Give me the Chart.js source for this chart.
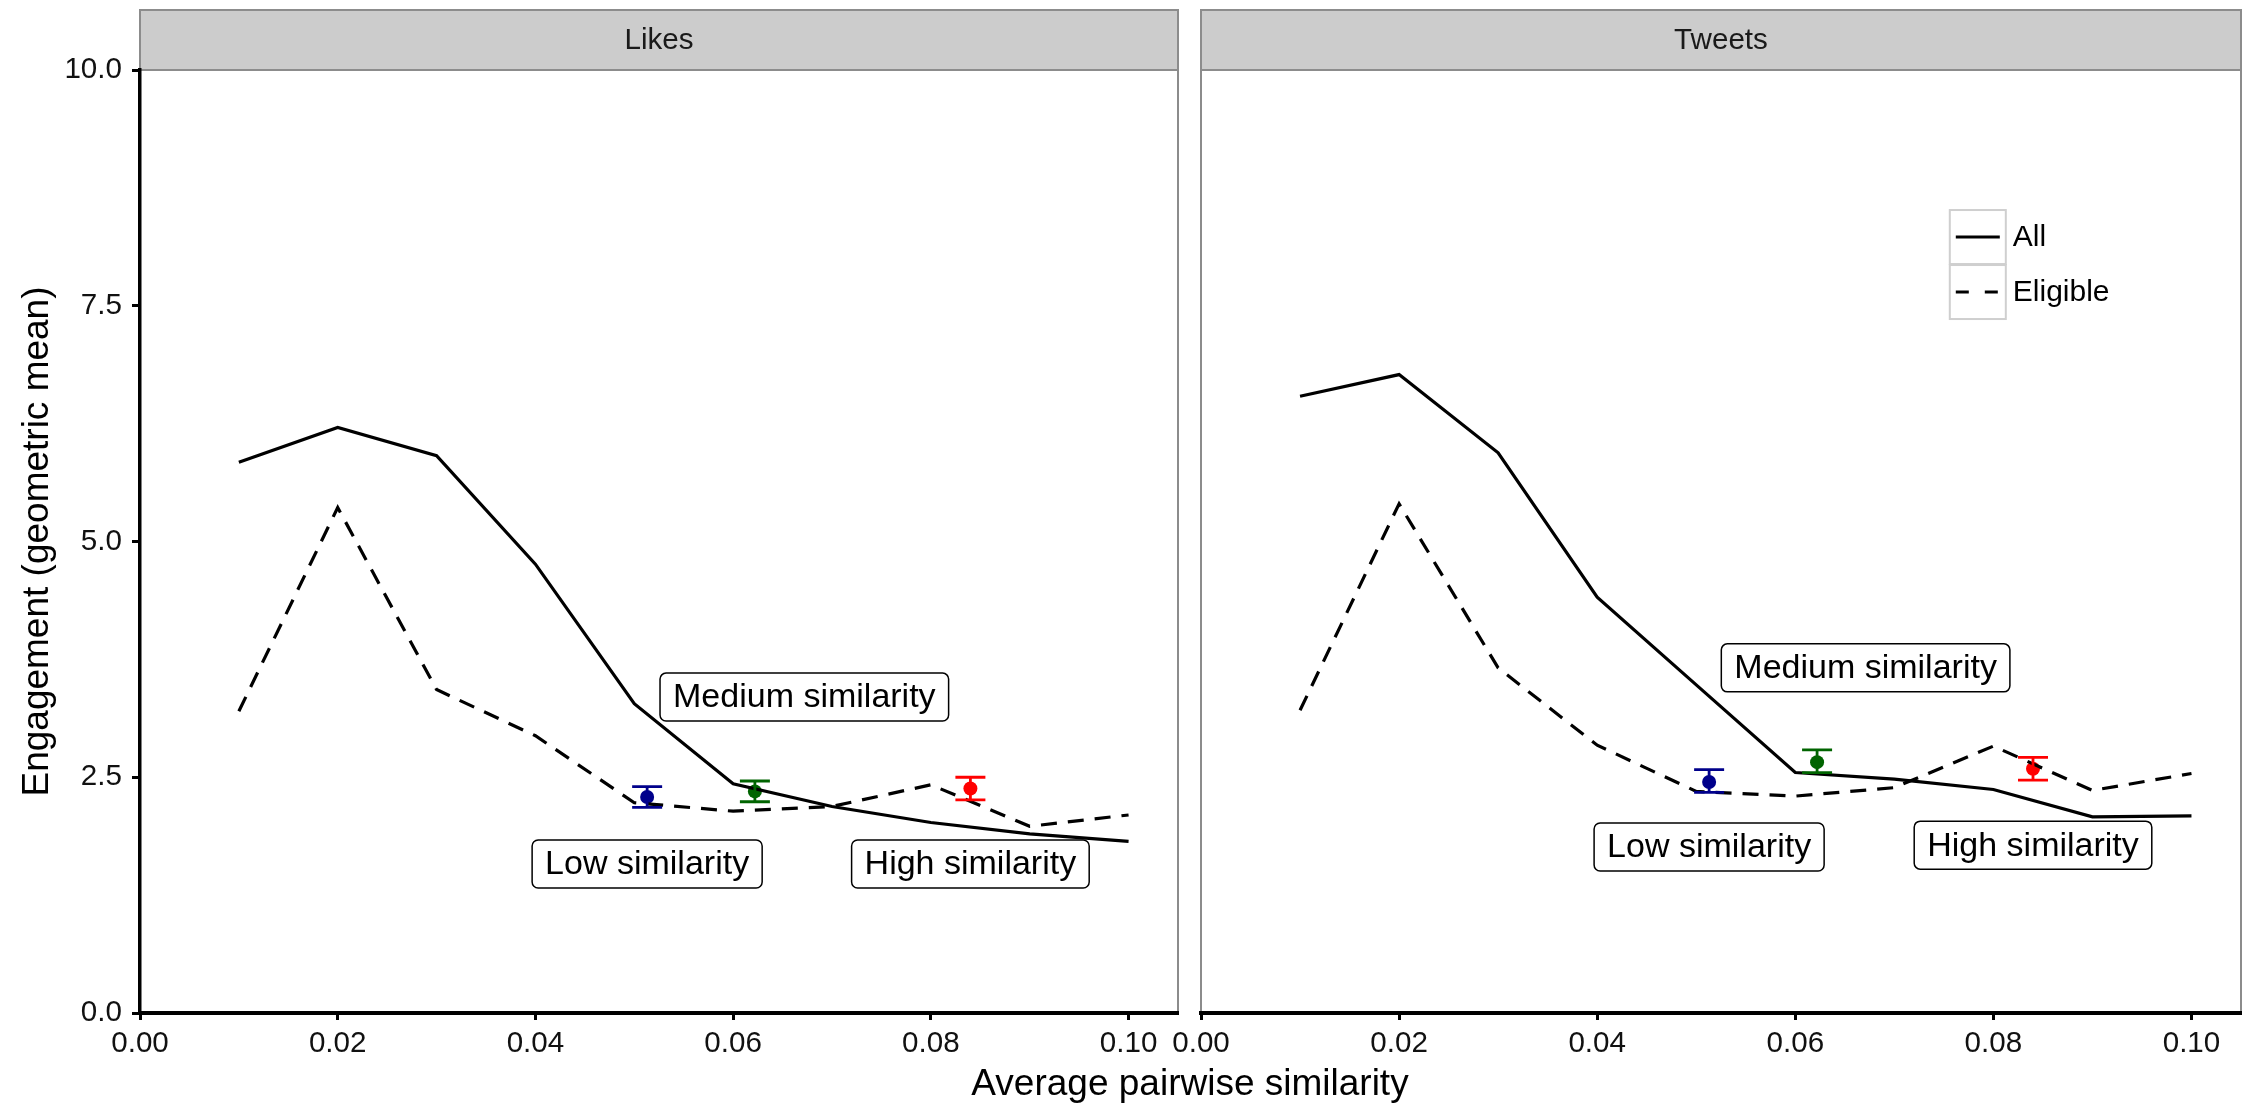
<!DOCTYPE html>
<html>
<head>
<meta charset="utf-8">
<script src="https://cdn.jsdelivr.net/npm/chart.js@4.4.1/dist/chart.umd.min.js"></script>
<style>
  html, body { margin: 0; padding: 0; background: #fff; }
  body { width: 2248px; height: 1103px; position: relative; overflow: hidden; font-family: "Liberation Sans", Arial, sans-serif; }
  canvas { position: absolute; top: 0; }
  #likesChart { left: 0; }
  #tweetsChart { left: 1140px; }
  #xTitle { position: absolute; left: 0; width: 2380px; top: 1064px; height: 37px; line-height: 37px; text-align: center; font-size: 37px; color: #000; }
</style>
</head>
<body>
<canvas id="likesChart" width="1185" height="1103"></canvas>
<canvas id="tweetsChart" width="1108" height="1103"></canvas>
<div id="xTitle">Average pairwise similarity</div>
<script>
const FONT = '"Liberation Sans", Arial, sans-serif';

// similarity bins
const xValues = [0.01, 0.02, 0.03, 0.04, 0.05, 0.06, 0.07, 0.08, 0.09, 0.10];
const xTicks = [0, 0.02, 0.04, 0.06, 0.08, 0.10];
const yTicks = [0, 2.5, 5, 7.5, 10];

// Likes panel
const likesAll = [5.84, 6.21, 5.91, 4.76, 3.28, 2.43, 2.19, 2.02, 1.90, 1.82];
const likesEligible = [3.20, 5.36, 3.43, 2.94, 2.23, 2.14, 2.19, 2.42, 1.98, 2.10];

// Tweets panel
const tweetsAll = [6.54, 6.77, 5.94, 4.41, 3.48, 2.55, 2.48, 2.37, 2.08, 2.09];
const tweetsEligible = [3.21, 5.40, 3.66, 2.84, 2.35, 2.30, 2.39, 2.83, 2.36, 2.54];

// groups with mean and error bars
const groupNames = ["Low similarity", "Medium similarity", "High similarity"];
const groupColors = ["#00008B", "#006400", "#FF0000"];
const groupX = [0.0513, 0.0622, 0.084];
const likesMean = [2.29, 2.35, 2.38];
const likesLower = [2.18, 2.24, 2.26];
const likesUpper = [2.40, 2.46, 2.50];
const tweetsMean = [2.45, 2.66, 2.59];
const tweetsLower = [2.34, 2.55, 2.47];
const tweetsUpper = [2.58, 2.79, 2.71];

// label anchors
const likesLabelX = [0.0513, 0.0672, 0.084];
const likesLabelY = [1.58, 3.35, 1.58];
const tweetsLabelX = [0.0513, 0.0671, 0.084];
const tweetsLabelY = [1.76, 3.66, 1.78];

// strip + panel border, drawn under the axes
const panelPlugin = {
  id: "panel",
  beforeDraw(chart, args, opts) {
    const { ctx, chartArea: ca } = chart;
    ctx.save();
    ctx.fillStyle = "#CCCCCC";
    ctx.fillRect(ca.left, 10, ca.right - ca.left, ca.top - 10);
    ctx.strokeStyle = "#8C8C8C";
    ctx.lineWidth = 2;
    ctx.strokeRect(ca.left, 10, ca.right - ca.left, ca.bottom - 10);
    ctx.beginPath();
    ctx.moveTo(ca.left, ca.top);
    ctx.lineTo(ca.right, ca.top);
    ctx.stroke();
    ctx.fillStyle = "#1A1A1A";
    ctx.font = "29.6px " + FONT;
    ctx.textAlign = "center";
    ctx.textBaseline = "middle";
    ctx.fillText(opts.title, (ca.left + ca.right) / 2, 41);
    ctx.restore();
  }
};

// error bars + text labels
const annotPlugin = {
  id: "annot",
  afterDatasetsDraw(chart, args, opts) {
    const { ctx } = chart;
    const xs = chart.scales.x, ys = chart.scales.y;
    ctx.save();
    const pts = chart.data.datasets[2].data;
    pts.forEach((p, i) => {
      const px = xs.getPixelForValue(p.x);
      const y1 = ys.getPixelForValue(p.lo), y2 = ys.getPixelForValue(p.hi);
      ctx.strokeStyle = groupColors[i];
      ctx.lineWidth = 2.8;
      ctx.beginPath();
      ctx.moveTo(px, y1); ctx.lineTo(px, y2);
      ctx.moveTo(px - 15, y1); ctx.lineTo(px + 15, y1);
      ctx.moveTo(px - 15, y2); ctx.lineTo(px + 15, y2);
      ctx.stroke();
    });
    ctx.font = "34px " + FONT;
    ctx.textAlign = "center";
    ctx.textBaseline = "middle";
    groupNames.forEach((name, i) => {
      const cx = xs.getPixelForValue(opts.labelX[i]);
      const cy = ys.getPixelForValue(opts.labelY[i]);
      const w = ctx.measureText(name).width + 26;
      const h = 48;
      ctx.beginPath();
      ctx.roundRect(cx - w / 2, cy - h / 2, w, h, 6);
      ctx.fillStyle = "#fff";
      ctx.fill();
      ctx.strokeStyle = "#000";
      ctx.lineWidth = 1.5;
      ctx.stroke();
      ctx.fillStyle = "#000";
      ctx.fillText(name, cx, cy + 1);
    });
    ctx.restore();
  }
};

// legend keys inside the right panel
const keyPlugin = {
  id: "keys",
  afterDraw(chart, args, opts) {
    if (!opts.show) return;
    const { ctx, chartArea: ca } = chart;
    const left = ca.left + 0.72 * (ca.right - ca.left);
    const top = ca.top + 0.1485 * (ca.bottom - ca.top);
    const kw = 56, kh = 54;
    ctx.save();
    [0, 1].forEach(i => {
      const ds = chart.data.datasets[i];
      const ky = top + i * (kh + 1);
      ctx.strokeStyle = "#CFCFCF";
      ctx.lineWidth = 2;
      ctx.setLineDash([]);
      ctx.strokeRect(left, ky, kw, kh);
      ctx.strokeStyle = "#000";
      ctx.lineWidth = 3;
      ctx.setLineDash(i === 1 ? [13, 16] : []);
      ctx.beginPath();
      ctx.moveTo(left + 6, ky + kh / 2);
      ctx.lineTo(left + kw - 6, ky + kh / 2);
      ctx.stroke();
      ctx.setLineDash([]);
      ctx.fillStyle = "#000";
      ctx.font = "30px " + FONT;
      ctx.textAlign = "left";
      ctx.textBaseline = "middle";
      ctx.fillText(ds.label, left + kw + 7, ky + kh / 2 + 1);
    });
    ctx.restore();
  }
};

function makePanel(id, title, allVals, eligVals, mean, lower, upper, labelX, labelY, isLeft) {
  const tickFont = { size: 29.6, family: FONT };
  return new Chart(document.getElementById(id), {
    type: "scatter",
    data: {
      datasets: [
        {
          label: "All",
          data: xValues.map((x, i) => ({ x: x, y: allVals[i] })),
          showLine: true,
          borderColor: "#000",
          borderWidth: 3.2,
          pointRadius: 0,
          fill: false
        },
        {
          label: "Eligible",
          data: xValues.map((x, i) => ({ x: x, y: eligVals[i] })),
          showLine: true,
          borderColor: "#000",
          borderWidth: 3.2,
          borderDash: [16, 11],
          pointRadius: 0,
          fill: false
        },
        {
          label: "Groups",
          data: groupX.map((x, i) => ({ x: x, y: mean[i], lo: lower[i], hi: upper[i] })),
          showLine: false,
          pointRadius: 7,
          pointBorderWidth: 0,
          pointBackgroundColor: groupColors
        }
      ]
    },
    options: {
      responsive: false,
      devicePixelRatio: 1,
      animation: false,
      layout: {
        padding: isLeft ? { left: 0, right: 4, top: 70, bottom: 0 } : { left: 61, right: 7, top: 70, bottom: 0 }
      },
      plugins: {
        legend: { display: false },
        tooltip: { enabled: false },
        panel: { title: title },
        annot: { labelX: labelX, labelY: labelY },
        keys: { show: !isLeft }
      },
      scales: {
        x: {
          type: "linear",
          min: 0,
          max: 0.105,
          afterBuildTicks: s => { s.ticks = xTicks.map(v => ({ value: v })); },
          afterFit: s => { s.height = 90; s.paddingLeft = 0; s.paddingRight = 0; },
          ticks: { callback: v => v.toFixed(2), font: tickFont, color: "#111", padding: 6, maxRotation: 0, autoSkip: false },
          grid: { drawOnChartArea: false, tickLength: 7, tickWidth: 3, tickColor: "#000" },
          border: { color: "#000", width: 4 }
        },
        y: {
          type: "linear",
          display: isLeft,
          min: 0,
          max: 10,
          afterBuildTicks: s => { s.ticks = yTicks.map(v => ({ value: v })); },
          afterFit: s => { s.width = isLeft ? 140 : 0; s.paddingTop = 0; s.paddingBottom = 0; },
          ticks: { callback: v => v.toFixed(1), font: tickFont, color: "#111", padding: 10 },
          grid: { drawOnChartArea: false, tickLength: 8, tickWidth: 3, tickColor: "#000" },
          border: { color: "#000", width: 3.5 },
          title: {
            display: true,
            text: "Engagement (geometric mean)",
            color: "#000",
            font: { size: 37, family: FONT },
            padding: { top: 16, bottom: 0 }
          }
        }
      }
    },
    plugins: [panelPlugin, annotPlugin, keyPlugin]
  });
}

makePanel("likesChart", "Likes", likesAll, likesEligible, likesMean, likesLower, likesUpper, likesLabelX, likesLabelY, true);
makePanel("tweetsChart", "Tweets", tweetsAll, tweetsEligible, tweetsMean, tweetsLower, tweetsUpper, tweetsLabelX, tweetsLabelY, false);
</script>
</body>
</html>
